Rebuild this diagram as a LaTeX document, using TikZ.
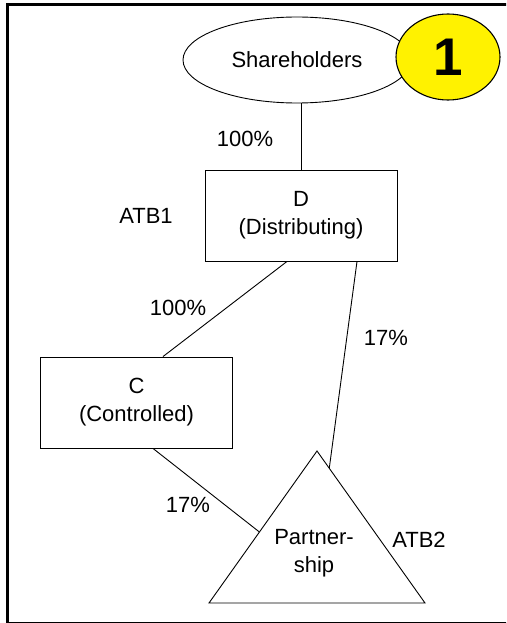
\documentclass[tikz,border=0pt]{standalone}
\usepackage{fontspec}
\setmainfont{Liberation Sans}
\usetikzlibrary{shapes.geometric}
\begin{document}
\begin{tikzpicture}[x=1pt,y=-1pt,
  every node/.style={font=\fontsize{22}{28}\selectfont, inner sep=0pt},
  box/.style={draw=black, line width=0.9pt, minimum width=192pt, minimum height=91pt, align=center},
  oval/.style={draw=black, line width=0.9pt, ellipse},
  lbl/.style={},
  conn/.style={draw=black, line width=0.9pt}]
\useasboundingbox (0,0) rectangle (506,623);
\clip (0,0) rectangle (506,623);
\draw[line width=3pt] (7.3,4.7) rectangle (530,623.7);
% nodes
\node[oval, minimum width=228pt, minimum height=86pt] (sh) at (297,60) {Shareholders};
\node[oval, fill=yellow, minimum width=104pt, minimum height=86pt, line width=1.1pt,
      font=\fontsize{53}{53}\bfseries\selectfont] (one) at (448,57) {1};
\node[box] (D) at (301,215.5) {D\\(Distributing)};
\node[box] (C) at (136.5,402.5) {C\\(Controlled)};
\coordinate (apex) at (317,451);
\coordinate (bl) at (209,603);
\coordinate (br) at (425,603);
\draw[line width=0.9pt, line join=miter] (apex) -- (br) -- (bl) -- cycle;
\node[align=center] (P) at (314,553.5) {Partner-\\ship};
\coordinate (pD) at (329.3,468);
\coordinate (pC) at (259.4,532);
% connectors
\draw[conn] (sh.south -| D.north) -- (D.north);
\draw[conn] ([xshift=-14pt]D.south) -- ([xshift=26.5pt]C.north);
\draw[conn] ([xshift=56pt]D.south) -- (pD);
\draw[conn] ([xshift=16.5pt]C.south) -- (pC);
% labels
\node[lbl] (l1) at (245,139) {100\%};
\node[lbl] (atb1) at (146,216) {ATB1};
\node[lbl] (l2) at (178,308) {100\%};
\node[lbl] (l3) at (386,338) {17\%};
\node[lbl] (l4) at (188,505) {17\%};
\node[lbl] (atb2) at (419,540) {ATB2};
\end{tikzpicture}
\end{document}
